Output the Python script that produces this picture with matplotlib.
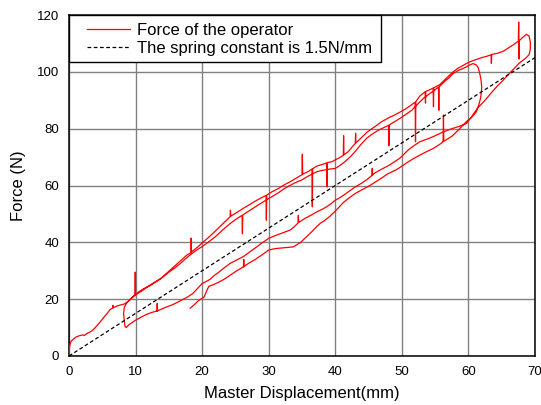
import matplotlib
matplotlib.use('Agg')
import matplotlib.pyplot as plt
from matplotlib.patches import Rectangle
import numpy as np

plt.rcParams['font.family'] = ['Liberation Sans', 'DejaVu Sans']

# first loading branch (x mm, force N), spikes included
load1_x = [0, 0.05, 0.1, 0.3, 0.6, 1.0, 1.4, 1.8, 2.1, 2.3, 2.5, 2.8, 3.0, 3.3, 3.7, 4.1, 4.5, 4.9, 5.3, 5.7,
           6.2, 6.6, 6.6, 6.7, 7.2, 7.8, 8.3, 8.8, 9.2, 9.7, 10.2, 11.0, 11.7, 12.6, 13.7, 14.6, 15.7, 16.6,
           17.7, 18.3, 18.35, 18.4, 19.4, 20.0, 21.0, 22.0, 23.0, 24.2, 24.25, 24.3, 25.2, 26.2, 27.2, 28.2,
           29.0, 29.6, 29.65, 29.7, 30.5, 31.5, 32.3, 33.2, 34.0, 34.7, 35.0, 35.05, 35.1, 36.0, 36.5, 36.55,
           36.6, 37.2, 38.0, 38.7, 38.75, 38.8, 39.5, 40.0, 40.8, 41.2, 41.25, 41.3, 42.0, 42.5, 43.0, 43.05,
           43.1, 44.0, 44.8, 45.5, 46.3, 47.0, 48.0, 48.9, 49.7, 50.6, 51.5, 52.0, 52.05, 52.1, 52.7, 53.3,
           53.5, 53.55, 53.6, 54.0, 54.7, 54.75, 54.8, 55.7, 56.7, 57.7, 58.4, 59.0, 59.6, 60.2, 61.0, 62.0,
           62.8, 63.4, 63.45, 63.5, 64.3, 65.2, 66.0, 66.8, 67.5, 67.55, 67.6, 67.65, 68.2, 68.7, 69.1, 69.3,
           69.3, 69.1, 68.6]
load1_y = [0, 2.0, 3.5, 5.2, 5.8, 6.6, 7.0, 7.3, 7.4, 7.2, 7.6, 8.0, 8.3, 8.6, 9.4, 10.4, 11.5, 12.6, 13.8, 14.9,
           16.4, 16.9, 17.8, 17.0, 17.6, 18.0, 18.3, 19.1, 20.0, 21.0, 21.8, 23.0, 24.2, 25.6, 27.1, 29.0, 31.3,
           33.2, 35.5, 36.3, 41.5, 36.6, 38.5, 39.8, 41.8, 44.0, 46.3, 49.0, 51.3, 49.2, 50.5, 52.0, 53.4, 54.8,
           55.8, 56.5, 47.8, 56.6, 57.8, 59.0, 60.2, 61.3, 62.4, 63.4, 63.8, 71.0, 64.0, 65.0, 65.8, 52.5,
           65.9, 66.8, 67.4, 67.9, 59.5, 68.0, 68.4, 69.0, 70.0, 70.6, 77.5, 70.8, 72.0, 73.5, 74.8, 78.4,
           75.0, 77.0, 78.8, 80.0, 81.3, 82.5, 83.8, 84.8, 85.8, 87.0, 88.5, 89.3, 75.4, 89.5, 91.5, 92.6,
           93.0, 89.0, 93.1, 93.5, 94.3, 87.7, 94.4, 95.5, 97.8, 100.0, 101.2, 102.0, 102.8, 103.5, 104.2, 105.0,
           105.5, 106.0, 103.0, 106.1, 106.5, 107.2, 108.4, 109.6, 110.8, 117.5, 104.5, 111.0, 112.2, 113.2, 112.6, 110.5,
           108.0, 106.0, 104.8]

# first unloading branch
unload1_x = [68.2, 67.6, 67.0, 66.2, 65.2, 64.5, 63.5, 62.5, 61.4, 60.5, 59.7, 58.6, 57.5, 56.6, 55.7, 54.8, 54.0,
             52.7, 51.8, 51.0, 50.3, 49.7, 48.8, 48.0, 47.0, 46.0, 45.5, 45.55, 45.6, 44.7, 43.8, 43.0, 42.1,
             41.2, 40.6, 40.0, 39.3, 38.7, 38.0, 37.2, 36.4, 35.5, 34.5, 34.45, 34.4, 33.8, 33.2, 32.3, 31.5,
             30.8, 30.0, 29.0, 28.2, 27.2, 26.2, 25.2, 24.2, 23.3, 22.5, 21.8, 21.2, 20.6, 20.0, 19.4, 18.6,
             17.7, 16.7, 15.7, 14.4, 13.2, 13.25, 13.3, 12.4, 11.6, 10.7, 10.0, 9.5, 9.0, 8.6]
unload1_y = [104.1, 103.0, 101.5, 99.6, 97.0, 95.4, 92.8, 90.0, 87.3, 84.3, 81.8, 80.8, 80.0, 79.2, 78.3, 77.3, 76.5,
             75.4, 74.0, 72.6, 71.0, 69.6, 68.2, 67.0, 65.8, 64.5, 63.6, 66.0, 63.7, 62.0, 60.6, 59.5, 58.0,
             56.5, 55.6, 54.8, 53.5, 52.5, 51.6, 50.7, 49.6, 48.5, 47.0, 49.5, 46.8, 45.4, 44.3, 43.5, 42.8,
             42.2, 41.4, 39.8, 38.4, 36.7, 35.0, 33.8, 32.6, 31.0, 29.5, 28.3, 27.0, 26.2, 25.5, 24.0, 22.0,
             20.6, 19.4, 18.2, 17.0, 15.8, 18.5, 15.9, 15.3, 14.6, 13.5, 12.6, 11.8, 11.0, 10.0]

# second loading branch
load2_x = [8.4, 8.3, 8.2, 8.3, 8.6, 9.1, 9.6, 9.9, 9.95, 10.0, 10.5, 11.3, 12.2, 13.0, 14.0, 15.0, 15.9, 16.7,
           17.4, 18.0, 19.0, 20.0, 21.0, 22.0, 23.0, 24.2, 25.0, 26.0, 26.05, 26.1, 27.0, 28.0, 29.0, 30.0,
           30.8, 31.5, 32.2, 33.0, 34.0, 35.0, 36.0, 37.2, 37.8, 38.5, 39.2, 40.0, 40.8, 41.5, 42.3, 43.0,
           43.8, 44.7, 45.5, 46.5, 47.5, 48.0, 48.05, 48.1, 49.0, 49.7, 50.6, 51.5, 52.1, 52.7, 53.3, 54.0,
           54.8, 55.5, 55.55, 55.6, 56.5, 57.0, 57.7, 58.5, 59.5, 60.1, 60.7, 61.2, 61.5, 61.7, 61.9, 62.0,
           61.9, 61.8, 61.6, 61.45]
load2_y = [10.5, 12.5, 15.0, 17.0, 18.5, 19.6, 20.8, 21.5, 29.5, 21.6, 22.6, 23.8, 24.8, 26.0, 27.6, 29.5, 31.0, 32.5,
           34.0, 35.2, 37.0, 38.5, 40.2, 42.0, 44.2, 46.6, 48.0, 49.5, 43.0, 49.6, 51.0, 52.5, 54.0, 55.4,
           56.5, 57.5, 58.7, 59.8, 61.0, 62.0, 63.4, 64.8, 65.2, 65.5, 65.8, 66.0, 67.2, 68.5, 70.2, 72.0,
           74.3, 76.6, 78.0, 79.5, 80.6, 81.2, 74.0, 81.3, 82.6, 83.6, 85.0, 86.5, 88.0, 89.4, 90.8, 92.0,
           93.4, 94.6, 86.5, 94.7, 96.8, 97.7, 99.4, 100.5, 101.5, 102.3, 102.9, 102.4, 101.3, 99.4, 97.0, 94.7,
           92.0, 90.5, 88.8, 87.7]

# second unloading branch
unload2_x = [61.2, 60.5, 59.7, 58.6, 57.5, 56.6, 56.2, 56.25, 56.3, 55.7, 54.7, 53.7, 52.8, 52.0, 51.0, 50.0, 49.2,
             48.5, 47.8, 47.2, 46.2, 45.2, 44.0, 43.0, 42.0, 41.2, 40.5, 40.0, 39.2, 38.3, 37.8, 37.2, 36.5,
             35.7, 34.8, 33.7, 32.8, 32.0, 31.0, 30.0, 29.0, 28.0, 27.1, 26.2, 26.25, 26.3, 25.2, 24.2, 23.3,
             22.5, 21.8, 21.0, 20.8, 20.6, 20.3, 19.8, 19.4, 18.8, 18.2]
unload2_y = [86.0, 84.0, 82.5, 79.8, 77.3, 76.0, 75.5, 84.8, 75.6, 74.5, 73.0, 71.9, 70.8, 69.8, 68.4, 66.8, 65.6,
             64.8, 64.0, 63.0, 61.5, 60.0, 58.5, 57.2, 55.5, 54.0, 52.2, 51.0, 49.2, 47.5, 46.8, 45.5, 43.8,
             42.0, 40.0, 38.4, 38.2, 38.0, 37.8, 37.3, 35.6, 34.0, 32.8, 31.4, 34.0, 31.5, 30.0, 28.4, 27.0,
             26.0, 25.2, 24.5, 23.5, 22.5, 20.8, 20.0, 19.4, 18.0, 16.8]

spring_k = 1.5  # N/mm
spring_x = [0, 70]

force_x = load1_x + unload1_x + load2_x + unload2_x
force_y = load1_y + unload1_y + load2_y + unload2_y

fig = plt.figure(figsize=(5.41, 4.05), dpi=100)
ax = fig.add_axes([69 / 541, 1 - 356 / 405, 466 / 541, 341 / 405])

ax.plot(force_x, force_y, color='#ff0000', lw=0.9, label='Force of the operator', zorder=3)
ax.plot(spring_x, [spring_k * v for v in spring_x], color='black', lw=0.9, ls=(0, (3, 2)),
        label='The spring constant is 1.5N/mm', zorder=4)

ax.set_xlim(0, 70)
ax.set_ylim(0, 120)
ax.set_xticks(np.arange(0, 71, 10))
ax.set_yticks(np.arange(0, 121, 20))
ax.grid(True, color='#808080', lw=1.0, zorder=0)
ax.set_axisbelow(True)
ax.tick_params(length=0, labelsize=9.5, pad=7)
for s in ax.spines.values():
    s.set_linewidth(1.1)
    s.set_color('black')

ax.set_xlabel('Master Displacement(mm)', fontsize=12, labelpad=6)
ax.set_ylabel('Force (N)', fontsize=12, labelpad=8)

# legend box drawn by hand so the padding matches
ax.add_patch(Rectangle((0, (356 - 61.5) / 341), (381 - 69) / 466, 1 - (356 - 61.5) / 341,
                       transform=ax.transAxes, facecolor='white', edgecolor='black', lw=1.0, zorder=5))
leg = ax.legend(loc='upper left', bbox_to_anchor=((87 - 69) / 466, (356 - 23) / 341), frameon=False,
                fontsize=12, handlelength=2.6, handletextpad=0.4, borderpad=0, borderaxespad=0,
                labelspacing=0.2)
leg.set_zorder(6)

fig.savefig('out.png', dpi=100)
